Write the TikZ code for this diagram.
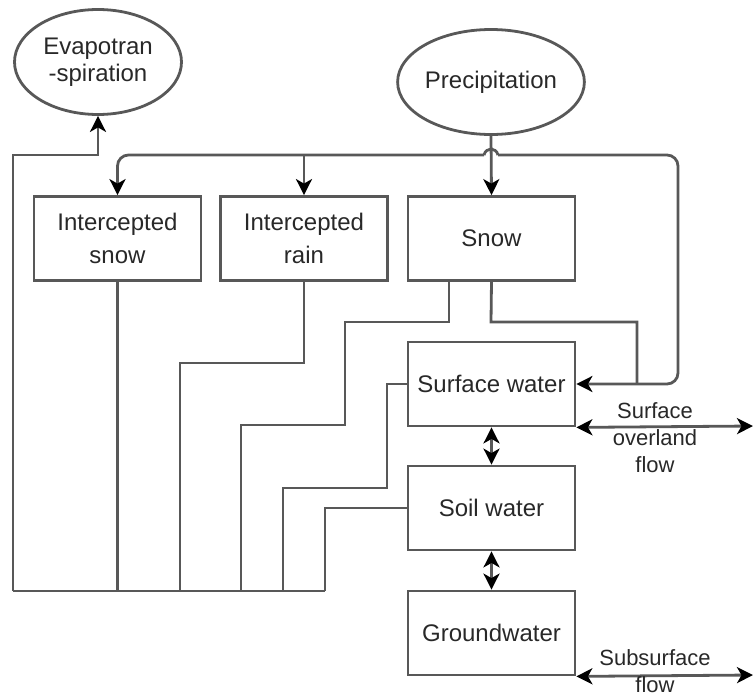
\documentclass[tikz,border=0pt]{standalone}
\usepackage{fontspec}
\setmainfont{Liberation Sans}
\usetikzlibrary{shapes.geometric,arrows.meta}
\definecolor{linec}{RGB}{88,88,88}
\definecolor{txtc}{RGB}{40,40,40}
\tikzset{
  ln/.style={draw=linec, line width=2.8pt},
  tip/.tip={Stealth[length=16pt,width=16pt,inset=4.5pt,color=black]},
  arr/.style={ln, -tip},
  arrtwo/.style={ln, tip-tip},
  box/.style={ln, rectangle, minimum width=167pt, minimum height=84pt, inner sep=0pt,
    align=center, text=txtc, font=\fontsize{24}{33}\selectfont},
  oval/.style={ln, ellipse, minimum width=167pt, minimum height=105pt, inner sep=0pt,
    align=center, text=txtc, font=\fontsize{24}{27}\selectfont},
  lbl/.style={align=center, text=txtc, font=\fontsize{22}{27}\selectfont, inner sep=0pt},
}
\begin{document}
\begin{tikzpicture}[x=1pt,y=-1pt]
\useasboundingbox (0,0) rectangle (756,696);
% nodes
\node[oval] (evap) at (98,62) {Evapotran\\-spiration};
\node[oval] (precip) at (491,82) {Precipitation};
\node[box] (isnow) at (117.5,238.5) {Intercepted\\snow};
\node[box] (irain) at (304,238.5) {Intercepted\\rain};
\node[box] (snow) at (491.5,238.5) {Snow};
\node[box] (surf) at (491.5,384) {Surface water};
\node[box] (soil) at (491.5,508) {Soil water};
\node[box] (ground) at (491.5,633) {Groundwater};
\coordinate (bl) at (13,591);
\coordinate (hubl) at (484,155);
\coordinate (hubr) at (498,155);
\coordinate (ofl) at (753,426);
\coordinate (sfl) at (753,675);
% evapotranspiration feed
\draw[arr] (bl) -- (13,155) -- (evap.south |- 13,155) -- (evap.south);
\draw[ln] (bl) -- (325,591);
% precipitation
\draw[arr] (precip.south) -- (snow.north);
\draw[ln] (hubl) .. controls (486,147) and (496,147) .. (hubr);
\draw[arr, rounded corners=11pt] (hubl) -| (isnow.north);
\draw[arr] (irain.north |- hubl) -- (irain.north);
\draw[arr, rounded corners=11pt] (hubr) -- (678,155) -- (678,384) -- (surf.east);
% drains to evapotranspiration bus
\draw[ln] (isnow.south) -- (isnow.south |- bl);
\draw[ln] (irain.south) -- (304,363) -- (180,363) -- (180,591);
\draw[ln] (snow.south -| 449,0) -- (449,322) -- (345,322) -- (345,425) -- (241,425) -- (241,591);
\draw[ln] (snow.south) -- (491,322) -- (637,322) -- (637,384);
\draw[ln] (surf.west) -- (387,384) -- (387,488) -- (283,488) -- (283,591);
\draw[ln] (soil.west) -- (325,508) -- (325,591);
% vertical exchanges
\draw[arrtwo] (surf.south) -- (soil.north);
\draw[arrtwo] (soil.south) -- (ground.north);
% lateral flows
\draw[arrtwo] (surf.south east) -- (ofl);
\node[lbl] (oflab) at (655,438) {Surface\\overland\\flow};
\draw[arrtwo] (ground.south east) -- (sfl);
\node[lbl] (sflab) at (655,671) {Subsurface\\flow};
\end{tikzpicture}
\end{document}
